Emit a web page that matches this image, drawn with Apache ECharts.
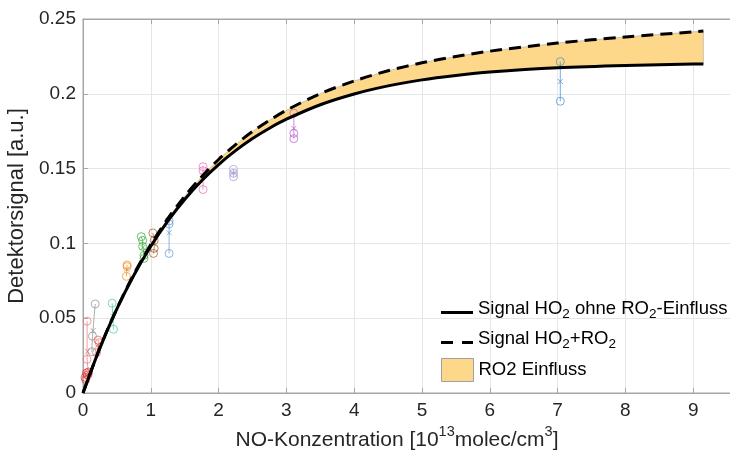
<!DOCTYPE html>
<html><head><meta charset="utf-8">
<script src="https://cdn.jsdelivr.net/npm/echarts@6/dist/echarts.min.js"></script>
<style>html,body{margin:0;padding:0;background:#fff;overflow:hidden}#c{width:761px;height:457px}#err{position:absolute;left:100px;top:40px;color:red;font:12px sans-serif;white-space:pre}</style>
</head><body><div id="c"></div><div id="err"></div>
<script>
// Fit curves
const curveX = [0, 0.25, 0.5, 0.75, 1, 1.25, 1.5, 1.75, 2, 2.25, 2.5, 2.75, 3, 3.5, 4, 4.5, 5, 5.5, 6, 7, 8, 9, 9.15];
const solidY = [0, 0.0302, 0.0562, 0.0787, 0.0981, 0.1149, 0.1294, 0.1419, 0.1527, 0.1620, 0.1701, 0.1770, 0.1830, 0.1927, 0.1999, 0.2053, 0.2093, 0.2122, 0.2145, 0.2174, 0.2190, 0.2199, 0.2200];
const dashedY = [0, 0.0303, 0.0565, 0.0794, 0.0992, 0.1165, 0.1315, 0.1446, 0.1561, 0.1660, 0.1748, 0.1823, 0.1890, 0.2001, 0.2086, 0.2154, 0.2207, 0.2249, 0.2285, 0.2339, 0.2380, 0.2414, 0.2419];

// Measurement clusters
const redX = [0.03, 0.05, 0.07, 0.08, 0.04];      const redY = [0.0105, 0.0134, 0.012, 0.014, 0.009];
const salmonX = [0.06, 0.06, 0.08];               const salmonY = [0.048, 0.0225, 0.013];
const coralX = [0.22, 0.24, 0.20];                const coralY = [0.0354, 0.0336, 0.027];
const grayX = [0.18, 0.14, 0.13];                 const grayY = [0.0595, 0.038, 0.0276];
const tealX = [0.43, 0.45];                       const tealY = [0.060, 0.0426];
const orangeX = [0.65, 0.65, 0.64];               const orangeY = [0.0856, 0.0845, 0.078];
const greenX = [0.86, 0.88, 0.88, 0.90, 0.90];    const greenY = [0.1045, 0.102, 0.098, 0.092, 0.090];
const brownX = [1.03, 1.05, 1.05, 1.04];          const brownY = [0.107, 0.102, 0.0967, 0.0933];
const blue1X = [1.27, 1.27, 1.27];                const blue1Y = [0.115, 0.113, 0.0933];
const pinkX = [1.77, 1.77, 1.77];                 const pinkY = [0.1513, 0.1486, 0.136];
const lavX = [2.22, 2.22, 2.22];                  const lavY = [0.1495, 0.1469, 0.1446];
const purpleX = [3.11, 3.11, 3.11];               const purpleY = [0.187, 0.1736, 0.170];
const blue2X = [7.04, 7.04];                      const blue2Y = [0.2215, 0.195];

const xTicks = [0, 1, 2, 3, 4, 5, 6, 7, 8, 9, 10];
const yTicks = [0, 0.05, 0.1, 0.15, 0.2, 0.25];

const clusters = [
  [redX, redY, '#e0302f'], [salmonX, salmonY, '#f07070'], [coralX, coralY, '#e85a4a'],
  [grayX, grayY, '#8c8c8c'], [tealX, tealY, '#4cc0a8'], [orangeX, orangeY, '#f08a20'],
  [greenX, greenY, '#2ea52e'], [brownX, brownY, '#a5521f'], [blue1X, blue1Y, '#5b95cf'],
  [pinkX, pinkY, '#f060b8'], [lavX, lavY, '#9a94cc'], [purpleX, purpleY, '#b85ccc'],
  [blue2X, blue2Y, '#3f8ad0']
];

const FONT = 'Liberation Sans';
const NAME1 = 'Signal HO2 ohne RO2-Einfluss';
const NAME2 = 'Signal HO2+RO2';
const NAME3 = 'RO2 Einfluss';
const BAND_COLOR = '#fdd78a';

try {
const series = [];
clusters.forEach(([xs, ys, col]) => {
  const pts = xs.map((x, i) => [x, ys[i]]).sort((a, b) => b[1] - a[1]);
  series.push({type: 'line', data: pts, symbol: 'none', silent: true,
    lineStyle: {color: col, width: 1, opacity: 0.7}, z: 2});
  series.push({type: 'scatter', data: pts, symbol: 'circle', symbolSize: 8,
    itemStyle: {color: 'rgba(0,0,0,0)', borderColor: col, borderWidth: 1, opacity: 0.7}, z: 3});
  const mx = xs.reduce((a, b) => a + b, 0) / xs.length;
  const my = ys.reduce((a, b) => a + b, 0) / ys.length;
  series.push({type: 'scatter', data: [[mx, my]], symbol: 'path://M0,0L10,10M10,0L0,10', symbolSize: 5,
    itemStyle: {color: 'rgba(0,0,0,0)', borderColor: col, borderWidth: 1, opacity: 0.7}, z: 3});
});

// band between the two curves
series.push({name: NAME3, type: 'custom', coordinateSystem: 'cartesian2d',
  data: [[0, 0]], itemStyle: {color: BAND_COLOR}, z: 1,
  renderItem: (params, api) => {
    const pts = [];
    curveX.forEach((x, i) => pts.push(api.coord([x, dashedY[i]])));
    for (let i = curveX.length - 1; i >= 0; i--) pts.push(api.coord([curveX[i], solidY[i]]));
    return {type: 'polygon', shape: {points: pts},
      style: {fill: BAND_COLOR, stroke: '#a8a8a8', lineWidth: 0.6}};
  }});
series.push({name: NAME1, type: 'line', smooth: 0.3, symbol: 'none',
  data: curveX.map((x, i) => [x, solidY[i]]),
  lineStyle: {color: '#000', width: 3}, itemStyle: {color: '#000'}, z: 6});
series.push({name: NAME2, type: 'line', smooth: 0.3, symbol: 'none',
  data: curveX.map((x, i) => [x, dashedY[i]]),
  lineStyle: {color: '#000', width: 3, type: [12, 7]}, itemStyle: {color: '#000'}, z: 6});

const richT = {
  t: {fontSize: 18.5, fontFamily: FONT, color: '#000', lineHeight: 26, verticalAlign: 'middle'},
  s: {fontSize: 13.5, fontFamily: FONT, color: '#000', lineHeight: 13, verticalAlign: 'bottom'}
};
const legendFmt = {};
legendFmt[NAME1] = '{t|Signal HO}{s|2}{t| ohne RO}{s|2}{t|-Einfluss}';
legendFmt[NAME2] = '{t|Signal HO}{s|2}{t|+RO}{s|2}';
legendFmt[NAME3] = '{t|RO2 Einfluss}';
function mkLegend(data, top, ih, pad) {
  return {
    data: data, left: 441, top: top, orient: 'vertical', padding: 0,
    itemWidth: 32, itemHeight: ih, itemGap: 0, selectedMode: false,
    formatter: n => legendFmt[n],
    textStyle: {rich: richT, padding: pad}
  };
}

const axisGray = '#a6a6a6';
const chart = echarts.init(document.getElementById('c'), null, {renderer: 'canvas'});
chart.setOption({
  animation: false,
  backgroundColor: '#fff',
  grid: {left: 83, top: 19, right: 0, bottom: 64, containLabel: false, outerBoundsMode: 'none',
    show: true, borderColor: axisGray, borderWidth: 1},
  legend: [
    mkLegend([{name: NAME1, icon: 'path://M0,0H32V3H0Z', itemStyle: {color: '#000'}}], 299, 3, [0, 0, 8, 0]),
    mkLegend([{name: NAME2, icon: 'path://M0,0H12V3H0ZM21,0H32V3H21Z', itemStyle: {color: '#000'}}], 329, 3, [0, 0, 8, 0]),
    mkLegend([{name: NAME3, icon: 'rect', itemStyle: {color: BAND_COLOR, borderColor: '#a0a0a0', borderWidth: 1}}], 358, 23, 0)
  ],
  xAxis: [{
    type: 'value', min: xTicks[0], max: xTicks[xTicks.length - 1], interval: 1,
    name: '{n|NO-Konzentration [10}{p|13}{n|molec/cm}{p|3}{n|]}',
    nameLocation: 'middle', nameGap: 30,
    nameTextStyle: {padding: [0, 50, 0, 0], rich: {
      n: {fontSize: 21, fontFamily: FONT, color: '#262626', lineHeight: 30, verticalAlign: 'middle'},
      p: {fontSize: 14.5, fontFamily: FONT, color: '#262626', lineHeight: 14, verticalAlign: 'top'}
    }},
    axisLine: {lineStyle: {color: axisGray}},
    axisTick: {inside: true, length: 5, lineStyle: {color: axisGray}},
    axisLabel: {fontSize: 19, fontFamily: FONT, color: '#262626', margin: 8},
    splitLine: {lineStyle: {color: '#e6e6e6'}}
  }, {
    type: 'value', position: 'top', min: xTicks[0], max: xTicks[xTicks.length - 1], interval: 1,
    axisLine: {lineStyle: {color: axisGray}},
    axisTick: {inside: true, length: 5, lineStyle: {color: axisGray}},
    axisLabel: {show: false}, splitLine: {show: false}
  }],
  yAxis: {
    type: 'value', min: yTicks[0], max: yTicks[yTicks.length - 1], interval: 0.05,
    name: 'Detektorsignal [a.u.]', nameLocation: 'middle', nameGap: 44,
    nameTextStyle: {fontSize: 22, fontFamily: FONT, color: '#262626'},
    axisLine: {lineStyle: {color: axisGray}},
    axisTick: {inside: true, length: 5, lineStyle: {color: axisGray}},
    axisLabel: {fontSize: 19, fontFamily: FONT, color: '#262626', margin: 7},
    splitLine: {lineStyle: {color: '#e6e6e6'}}
  },
  series: series
});
} catch (e) { document.getElementById('err').textContent = e.stack || String(e); }
</script>
</body></html>
